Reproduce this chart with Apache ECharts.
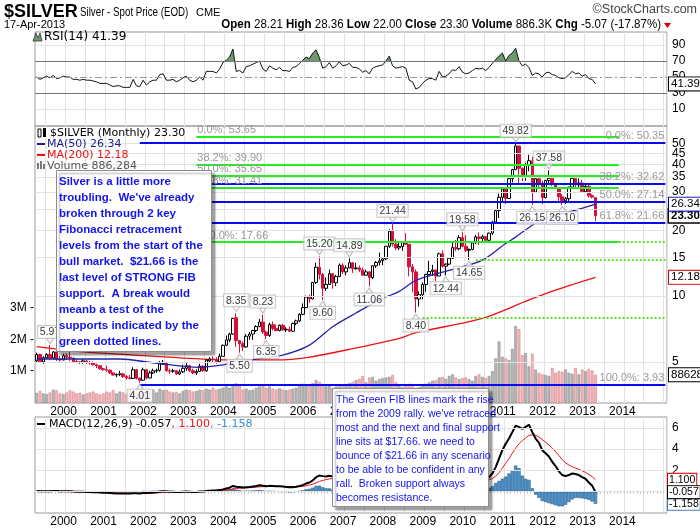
<!DOCTYPE html>
<html><head><meta charset="utf-8">
<script src="https://cdn.jsdelivr.net/npm/echarts@6/dist/echarts.min.js"></script>
<style>html,body{margin:0;padding:0;background:#fff}#c{width:700px;height:530px}</style>
</head><body><div id="c"></div>
<script>
// ---------- DATA ----------
// monthly candles [open, high, low, close]
const y1999 = [[5.05,5.50,4.95,5.40],[5.40,5.45,4.95,5.00],[5.00,5.30,4.90,5.22],[5.22,5.48,5.15,5.40],[5.40,5.97,5.08,5.20],[5.20,5.60,5.12,5.55],[5.55,5.60,5.05,5.12],[5.13,5.32,5.02,5.10],[5.10,5.45,5.08,5.33]];
const y2000 = [[5.33,5.45,5.10,5.25],[5.25,5.62,5.05,5.20],[5.20,5.22,4.98,5.00],[5.02,5.15,4.93,4.99],[4.99,5.05,4.88,4.98],[4.98,5.15,4.90,5.05],[5.05,5.08,4.90,4.96],[4.96,5.05,4.85,4.95],[4.95,5.02,4.80,4.85],[4.85,4.90,4.68,4.80],[4.80,4.82,4.60,4.65],[4.65,4.70,4.55,4.60]];
const y2001 = [[4.60,4.80,4.50,4.58],[4.58,4.62,4.40,4.45],[4.45,4.48,4.32,4.35],[4.35,4.42,4.25,4.38],[4.38,4.55,4.30,4.40],[4.40,4.45,4.22,4.28],[4.28,4.35,4.15,4.22],[4.22,4.35,4.15,4.20],[4.20,4.72,4.18,4.60],[4.60,4.62,4.15,4.20],[4.20,4.25,4.01,4.12],[4.12,4.70,4.10,4.60]];
const y2002 = [[4.60,4.62,4.15,4.22],[4.22,4.55,4.20,4.45],[4.45,4.65,4.40,4.55],[4.54,4.65,4.45,4.57],[4.57,5.05,4.50,4.90],[4.88,5.10,4.85,4.92],[4.92,5.00,4.50,4.55],[4.55,4.65,4.40,4.53],[4.53,4.65,4.45,4.55],[4.55,4.58,4.35,4.40],[4.40,4.62,4.35,4.50],[4.50,4.85,4.45,4.67]];
const y2003 = [[4.67,4.95,4.55,4.80],[4.80,4.85,4.50,4.55],[4.55,4.65,4.38,4.45],[4.45,4.62,4.35,4.52],[4.52,4.90,4.50,4.78],[4.78,4.82,4.50,4.55],[4.55,5.15,4.50,5.10],[5.05,5.25,4.95,5.15],[5.15,5.30,4.95,5.12],[5.12,5.25,4.90,5.00],[5.00,5.45,4.95,5.30],[5.30,6.00,5.30,5.95]];
const y2004 = [[5.95,6.60,5.90,6.30],[6.30,6.80,6.15,6.70],[6.70,7.95,6.65,7.90],[7.95,8.35,5.85,6.25],[6.25,6.30,5.50,6.05],[6.05,6.20,5.60,5.85],[5.85,6.70,5.80,6.55],[6.55,6.85,6.30,6.70],[6.70,7.00,6.30,6.95],[6.95,7.35,6.85,7.25],[7.25,7.85,7.20,7.60],[7.60,8.23,6.70,6.85]];
const y2005 = [[6.85,6.95,6.35,6.60],[6.60,7.55,6.50,7.40],[7.40,7.65,6.95,7.10],[7.10,7.40,6.90,6.95],[6.95,7.40,6.90,7.35],[7.35,7.45,6.95,7.00],[7.00,7.20,6.85,7.05],[7.05,7.25,6.85,6.90],[6.90,7.55,6.85,7.50],[7.50,7.80,7.35,7.70],[7.70,8.35,7.60,8.25],[8.25,9.25,8.20,8.85]];
const y2006 = [[8.85,10.05,8.80,9.90],[9.90,10.15,9.30,9.70],[9.70,11.60,9.65,11.55],[11.55,14.20,11.35,13.55],[13.55,15.20,11.90,12.55],[12.55,12.75,9.60,10.85],[10.85,12.15,10.55,11.30],[11.30,13.20,11.30,12.65],[12.65,12.75,10.80,11.50],[11.50,12.50,11.10,12.30],[12.30,14.10,12.20,13.85],[13.85,14.10,12.60,12.90]];
const y2007 = [[12.90,13.80,12.45,13.45],[13.45,14.89,13.40,14.20],[14.20,14.30,12.75,13.35],[13.35,14.20,13.20,13.45],[13.45,13.80,12.90,13.15],[13.15,13.50,12.40,12.45],[12.45,13.20,12.40,12.90],[12.90,13.00,11.06,12.15],[12.15,13.85,11.95,13.75],[13.75,14.45,13.45,14.25],[14.25,15.80,13.80,14.50],[14.50,15.00,13.85,14.80]];
const y2008 = [[14.80,16.95,14.60,16.90],[16.90,20.20,16.60,19.80],[19.80,21.44,16.85,17.30],[17.30,18.20,16.20,16.60],[16.60,17.55,16.25,16.85],[16.85,17.75,16.10,17.55],[17.55,19.40,17.15,17.25],[17.25,17.30,12.30,13.60],[13.60,14.00,10.40,12.90],[12.90,13.25,8.40,9.70],[9.70,10.50,8.95,10.15],[10.15,11.55,9.65,11.30]];
const y2009 = [[11.30,12.65,10.45,12.55],[12.55,14.50,12.45,12.95],[12.95,13.90,12.35,13.15],[13.15,13.20,11.65,12.35],[12.35,15.80,12.35,15.60],[15.60,16.20,13.50,13.70],[13.70,14.10,12.44,14.00],[14.00,15.05,13.85,14.90],[14.90,17.50,14.80,16.65],[16.65,18.05,16.05,16.45],[16.45,19.00,16.20,18.50],[18.50,19.58,16.70,16.90]];
const y2010 = [[16.90,19.00,15.90,16.20],[16.20,16.50,14.65,16.35],[16.35,17.80,16.20,17.50],[17.50,19.05,17.30,18.65],[18.65,19.55,17.10,18.35],[18.35,19.10,17.65,18.70],[18.70,18.75,17.50,18.00],[18.00,19.50,17.70,19.40],[19.40,22.10,19.05,21.80],[21.80,24.90,21.40,24.60],[24.60,29.40,22.75,28.30],[28.30,31.00,27.00,30.90]];
const y2011 = [[30.90,31.30,26.40,27.95],[27.95,34.60,27.80,34.45],[34.45,38.20,33.10,37.90],[37.90,49.82,37.70,48.60],[48.60,48.70,32.35,38.40],[38.40,38.80,33.55,34.90],[34.90,40.80,33.75,40.00],[40.00,44.25,37.20,41.60],[41.60,43.40,26.15,29.90],[29.90,35.50,29.85,34.40],[34.40,35.40,31.30,32.70],[32.70,33.65,26.40,28.20]];
const y2012 = [[28.20,34.10,28.00,33.80],[33.80,37.58,32.90,34.60],[34.60,35.40,31.80,32.50],[32.50,33.00,30.90,31.15],[31.15,31.50,26.70,28.45],[28.45,29.30,26.10,27.30],[27.30,28.40,26.40,27.90],[27.90,31.60,27.00,31.50],[31.50,35.40,31.30,34.55],[34.55,35.00,31.30,32.30],[32.30,34.60,31.50,32.90],[32.90,34.00,29.90,30.00]];
const y2013 = [[30.00,32.40,29.85,31.80],[31.80,32.20,28.20,28.80],[28.80,29.20,28.00,28.37],[28.21,28.36,22.00,23.30]];

// monthly volume, millions
const volumeM = [
0.32,0.38,0.3,0.28,0.33,0.42,0.4,0.3,0.28,
0.33,0.4,0.36,0.3,0.32,0.27,0.3,0.33,0.36,0.3,0.27,0.3,
0.36,0.33,0.4,0.3,0.36,0.33,0.27,0.3,0.42,0.36,0.3,0.33,
0.3,0.36,0.42,0.33,0.45,0.4,0.42,0.36,0.33,0.35,0.3,0.38,
0.42,0.4,0.36,0.38,0.42,0.4,0.45,0.42,0.48,0.42,0.45,0.48,
0.52,0.48,0.56,0.62,0.55,0.42,0.45,0.4,0.42,0.48,0.52,0.56,
0.48,0.52,0.45,0.42,0.46,0.42,0.4,0.42,0.45,0.48,0.54,0.6,
0.56,0.54,0.62,0.72,0.66,0.6,0.52,0.54,0.48,0.52,0.56,0.54,
0.58,0.62,0.66,0.72,0.76,0.85,0.65,0.8,0.82,0.7,0.75,0.78,
0.8,0.82,0.88,0.65,0.55,0.5,0.55,0.6,0.52,0.48,0.5,0.55,
0.6,0.65,0.7,0.72,0.8,0.82,0.75,0.85,0.9,0.8,0.75,0.78,
0.8,0.75,0.7,0.85,0.9,0.82,0.78,0.85,1.0,1.4,1.93,1.45,
1.4,1.35,1.7,2.42,2.32,1.5,1.57,1.15,1.55,1.05,0.95,0.9,
0.88,0.85,1.1,0.95,1.0,0.98,1.05,0.95,0.92,1.1,0.9,1.05,
1.0,1.07,1.02,0.886284];

const rsi = [
50,47,49,51,49,52,48,49,51,
50,50,47,47,46,47,46,46,45,44,42,42,
42,40,38,39,39,37,37,37,47,39,38,46,
40,44,46,46,53,54,46,46,47,44,46,49,
51,46,44,46,50,46,57,57,57,55,60,68,
71,75,85,57,58,55,63,64,66,68,70,60,
57,64,61,59,62,58,58,57,62,63,67,71,
75,73,80,84,74,61,63,68,61,64,69,64,
65,67,62,62,60,56,58,54,61,63,64,65,
70,76,64,61,62,63,61,46,44,35,37,42,
46,48,48,46,57,50,51,54,59,58,63,56,
54,55,58,61,60,61,58,62,67,72,76,80,
70,77,80,86,70,64,66,62,52,55,54,50,
55,56,53,52,49,48,49,53,57,54,55,51,
53,48,47,41.39];

const macd = [
0.05,0.03,0.02,0.03,0.02,0.05,0.04,0.02,0.03,
0.03,0.03,0.0,-0.02,-0.03,-0.03,-0.04,-0.05,-0.06,-0.08,-0.1,-0.12,
-0.13,-0.15,-0.17,-0.18,-0.18,-0.19,-0.2,-0.2,-0.16,-0.17,-0.18,-0.14,
-0.15,-0.13,-0.1,-0.08,-0.02,0.02,0.0,-0.02,-0.03,-0.05,-0.04,-0.02,
0.0,-0.02,-0.04,-0.04,0.0,-0.01,0.05,0.08,0.1,0.1,0.13,0.2,
0.28,0.36,0.52,0.45,0.42,0.37,0.4,0.43,0.47,0.52,0.58,0.55,
0.5,0.53,0.52,0.49,0.49,0.46,0.43,0.39,0.41,0.44,0.51,0.6,
0.75,0.85,1.05,1.35,1.5,1.45,1.42,1.48,1.42,1.4,1.48,1.48,
1.5,1.55,1.5,1.45,1.4,1.3,1.25,1.12,1.15,1.2,1.25,1.3,
1.45,1.75,1.85,1.85,1.82,1.82,1.78,1.5,1.2,0.7,0.35,0.15,
0.05,0.0,0.0,-0.05,0.15,0.2,0.25,0.35,0.55,0.7,0.95,1.0,
1.0,0.95,1.0,1.1,1.2,1.25,1.25,1.35,1.7,2.3,3.1,3.9,
4.5,5.0,5.6,6.2,6.1,5.9,6.1,6.3,5.6,5.0,4.6,3.9,
3.6,3.3,2.8,2.4,1.9,1.55,1.45,1.55,1.7,1.65,1.55,1.35,
1.2,0.85,0.55,-0.057];

const signal = [
0.04,0.04,0.03,0.03,0.03,0.03,0.04,0.03,0.03,
0.03,0.03,0.02,0.01,0.0,-0.01,-0.02,-0.03,-0.04,-0.05,-0.06,-0.07,
-0.08,-0.1,-0.11,-0.13,-0.14,-0.15,-0.16,-0.17,-0.17,-0.17,-0.17,-0.17,
-0.16,-0.16,-0.15,-0.13,-0.11,-0.08,-0.06,-0.05,-0.05,-0.05,-0.05,-0.04,
-0.03,-0.03,-0.03,-0.03,-0.03,-0.02,-0.01,0.01,0.03,0.04,0.06,0.09,
0.13,0.17,0.24,0.28,0.31,0.32,0.34,0.36,0.38,0.41,0.44,0.46,
0.47,0.48,0.49,0.49,0.49,0.48,0.47,0.46,0.45,0.45,0.46,0.49,
0.54,0.6,0.69,0.82,0.95,1.05,1.12,1.19,1.23,1.27,1.31,1.34,
1.37,1.4,1.42,1.43,1.42,1.4,1.37,1.32,1.29,1.27,1.27,1.28,
1.31,1.4,1.49,1.56,1.61,1.65,1.68,1.64,1.55,1.38,1.18,0.97,
0.79,0.63,0.5,0.39,0.34,0.31,0.3,0.31,0.36,0.43,0.53,0.62,
0.7,0.75,0.8,0.86,0.93,1.0,1.05,1.11,1.23,1.44,1.77,2.2,
2.65,3.1,3.6,4.1,4.5,4.8,5.05,5.3,5.35,5.3,5.15,4.9,
4.65,4.4,4.1,3.75,3.4,3.0,2.7,2.5,2.35,2.2,2.1,1.95,
1.8,1.6,1.4,1.1];

const histogram = [
0.01,-0.01,-0.01,0,-0.01,0.02,0,-0.01,0,
0,0,-0.02,-0.03,-0.03,-0.02,-0.02,-0.02,-0.02,-0.03,-0.04,-0.05,
-0.05,-0.05,-0.06,-0.05,-0.04,-0.04,-0.04,-0.03,0.01,0,-0.01,0.03,
0.01,0.03,0.05,0.05,0.09,0.1,0.06,0.03,0.02,0,0.01,0.02,
0.03,0.01,-0.01,-0.01,0.03,0.01,0.06,0.07,0.07,0.06,0.07,0.11,
0.15,0.19,0.28,0.17,0.11,0.05,0.06,0.07,0.09,0.11,0.14,0.09,
0.03,0.05,0.03,0,0,-0.02,-0.04,-0.07,-0.04,-0.01,0.05,0.11,
0.21,0.25,0.36,0.53,0.55,0.4,0.3,0.29,0.19,0.13,0.17,0.14,
0.13,0.15,0.08,0.02,-0.02,-0.1,-0.12,-0.2,-0.14,-0.07,-0.02,0.02,
0.14,0.35,0.36,0.29,0.21,0.17,0.1,-0.14,-0.35,-0.68,-0.83,-0.82,
-0.74,-0.63,-0.5,-0.44,-0.19,-0.11,-0.05,0.04,0.19,0.27,0.42,0.38,
0.3,0.25,0.25,0.3,0.3,0.3,0.3,0.35,0.5,0.8,1.0,1.2,
1.4,1.7,2.0,2.45,2.2,1.5,1.2,1.1,0.3,-0.3,-0.6,-0.9,
-1.0,-1.1,-1.2,-1.3,-1.4,-1.4,-1.25,-1.0,-0.75,-0.6,-0.6,-0.65,
-0.7,-0.8,-0.95,-1.158];

// moving averages: [month index, value]
const ma50Points = [[0,5.15],[25,5.15],[35,4.95],[49,4.72],[56,4.84],[64,5.1],[74,5.37],[82,5.96],[89,7.24],[96,8.36],[104,9.75],[109,10.5],[114,11.8],[124,13.1],[134,14.6],[141,17.4],[144,18.6],[150,21.6],[154,23.0],[162,24.7],[168,26.34]];
const ma200Points = [[0,5.87],[14,5.55],[29,5.37],[44,5.2],[59,5.1],[74,5.1],[82,5.25],[94,5.7],[109,6.4],[114,6.8],[134,7.9],[148,9.6],[156,10.65],[168,12.18]];

// high / low annotations
const annoIdx = [4,31,60,61,68,69,85,86,94,100,107,114,123,128,130,144,149,154,158];
const annoVal = [5.97,4.01,8.35,5.50,8.23,6.35,15.20,9.60,14.89,11.06,21.44,8.40,12.44,19.58,14.65,49.82,26.15,37.58,26.10];
const annoPos = ['top','bottom','top','bottom','top','bottom','top','bottom','top','bottom','top','bottom','bottom','top','bottom','top','bottom','top','bottom'];

// Fibonacci levels
const fibAValues = [53.65,39.90,35.65,31.41,17.66];
const fibALabels = ['0.0%: 53.65','38.2%: 39.90','50.0%: 35.65','61.8%: 31.41','100.0%: 17.66'];
const fibBValues = [50.35,32.62,27.14,21.66,3.93];
const fibBLabels = ['0.0%: 50.35','38.2%: 32.62','50.0%: 27.14','61.8%: 21.66','100.0%: 3.93'];
const supportValues = [17.66,14.65,7.96];
const supportStart = [175,132,116];

// tick labels
const rsiTicks = [90,70,50,30,10];
const priceTicks = [5,10,15,20,25,30,35,40,45,50];
const priceTickLabels = ['5','10','15','20','','30','35','40','45','50'];
const macdTicks = [6,4,2,0];
const macdTickLabels = ['6','4','2',''];
const volumeTicks = [1,2,3];
const volumeTickLabels = ['1M','2M','3M'];

const note1 = ['Silver is a little more','troubling.  We\'ve already','broken through 2 key','Fibonacci retracement','levels from the start of the','bull market.  $21.66 is the','last level of STRONG FIB','support.  A break would','meanb a test of the','supports indicated by the','green dotted lines.'];
const note2 = ['The Green FIB lines mark the rise','from the 2009 rally. we\'ve retraced','most and the next and final support','line sits at $17.66. we need to','bounce of $21.66 in any scenario','to be able to be confident in any','rall.  Broken support always','becomes resistance.'];

// ---------- BUILD ----------
const months = [];
for (let i = 0; i < 190; i++) { const t = 3 + i; months.push((1999 + Math.floor(t / 12)) + '-' + String(t % 12 + 1).padStart(2, '0')); }
const ohlc = [].concat(y1999,y2000,y2001,y2002,y2003,y2004,y2005,y2006,y2007,y2008,y2009,y2010,y2011,y2012,y2013);
const candleData = ohlc.map(d => [d[0], d[3], d[2], d[1]]);
const closes = ohlc.map(d => d[3]);
const volItems = volumeM.map((v, i) => ({ value: v, itemStyle: (i === 0 || closes[i] >= closes[i - 1]) ? { color: '#b9b9b9', borderColor: '#8a8a8a', borderWidth: 0.6 } : { color: '#f2b9bd', borderColor: '#d98088', borderWidth: 0.6 } }));

const FONT = 'Liberation Sans';
const LEG = 'DejaVu Sans';
const NOLINE = { color: 'rgba(0,0,0,0)', width: 0 };
function gridLine(v, text, color, type) {
  return { yAxis: v, lineStyle: { color: color || '#e2e2e2', width: 1, type: type || 'solid' },
    label: { show: text !== '', formatter: text, position: 'end', distance: 5, color: '#000', fontSize: 12, fontFamily: FONT } };
}
function tag(v, text, border, opts) {
  return { yAxis: v, lineStyle: NOLINE,
    label: Object.assign({ show: true, formatter: text, position: 'end', distance: 2, color: '#000', fontSize: 11.5, fontFamily: FONT, opacity: 1,
      backgroundColor: '#fff', borderColor: border, borderWidth: 1, padding: [1, 1, 0, 2] }, opts || {}) };
}
const ml = (data) => ({ silent: true, symbol: ['none', 'none'], animation: false, emphasis: { disabled: true }, data });

const xSplit = (i, v) => v.endsWith('-01') || v.endsWith('-07');
function xa(gi, showLabels) {
  return { type: 'category', gridIndex: gi, data: months, boundaryGap: true,
    axisLine: { show: false }, axisTick: { show: gi === 2, interval: 0, length: 2, lineStyle: { color: '#bbb' } },
    axisLabel: { show: showLabels, interval: (i, v) => v.endsWith('-01') && v < '2015', formatter: v => v.slice(0, 4),
      fontSize: 12, fontFamily: FONT, color: '#000', margin: 3, padding: [0, 6, 0, 0] },
    splitLine: { show: true, interval: xSplit, lineStyle: { color: '#e2e2e2', width: 1 } } };
}

const rsiGrid = rsiTicks.map(v => gridLine(v, String(v), (v === 70 || v === 30) ? '#777' : (v === 50 ? '#999' : '#e2e2e2'), v === 50 ? [7, 3, 2, 3] : 'solid'));
const priceGrid = priceTicks.map((v, i) => gridLine(v, priceTickLabels[i]));
const macdGrid = macdTicks.map((v, i) => gridLine(v, macdTickLabels[i]));
const volLabels = volumeTicks.map((v, i) => ({ yAxis: v, lineStyle: NOLINE, label: { show: true, opacity: 1, formatter: volumeTickLabels[i] + ' -', position: 'start', distance: 1, color: '#000', fontSize: 12, fontFamily: FONT } }));

const fibLines = [];
fibAValues.forEach((v, i) => fibLines.push([
  { coord: [months[48], v], lineStyle: { color: '#22ee22', width: 2, type: 'solid' },
    label: { show: true, formatter: fibALabels[i], position: 'insideStartTop', distance: 1, color: '#9a9a9a', fontSize: 11, fontFamily: FONT } },
  { coord: [months[175], v] }]));
fibBValues.forEach((v, i) => fibLines.push([
  { coord: [months[31], v], lineStyle: { color: '#0a0af0', width: 2, type: 'solid' },
    label: { show: true, formatter: fibBLabels[i], position: 'insideEndTop', distance: 1, color: '#9a9a9a', fontSize: 11, fontFamily: FONT } },
  { coord: [months[189], v] }]));
supportValues.forEach((v, i) => fibLines.push([
  { coord: [months[supportStart[i]], v], lineStyle: { color: '#66dd22', width: 2, type: 'dotted' }, label: { show: false } },
  { coord: [months[189], v] }]));

const downTri = 'path://M0 0L8 0L4 5Z';
const upTri = 'path://M4 0L8 5L0 5Z';
const annoData = annoIdx.map((ix, i) => ({
  value: [months[ix], annoVal[i]],
  symbol: annoPos[i] === 'top' ? downTri : upTri,
  symbolSize: [7, 5],
  symbolOffset: [0, annoPos[i] === 'top' ? -4 : 4],
  label: { position: annoPos[i], formatter: annoVal[i].toFixed(2) }
}));

const macdTagStyle = { fontSize: 10.5, distance: 1, padding: [1, 1, 0, 1] };
const series = [
  { name: 'RSI', type: 'line', xAxisIndex: 0, yAxisIndex: 0, data: rsi, symbol: 'none', z: 3,
    lineStyle: { color: '#111', width: 1 },
    markLine: ml(rsiGrid.concat([tag(41.39, '41.39', '#000')])) },
  { name: 'RSIfill', type: 'line', xAxisIndex: 0, yAxisIndex: 0, data: rsi, symbol: 'none', z: 2,
    lineStyle: { width: 0 }, areaStyle: { origin: 70, opacity: 1 } },
  { name: 'Volume', type: 'bar', xAxisIndex: 1, yAxisIndex: 2, data: volItems, barCategoryGap: '18%', z: 1,
    markLine: ml(volLabels.concat([tag(0.886284, '886284', '#000')])) },
  { name: 'MA200', type: 'line', xAxisIndex: 1, yAxisIndex: 1, data: ma200Points.map(p => [months[p[0]], p[1]]), symbol: 'none', smooth: 0.3, z: 1,
    lineStyle: { color: '#ee1111', width: 1.3 },
    markLine: ml(priceGrid.concat([tag(12.18, '12.18', '#e00000')])) },
  { name: 'SILVER', type: 'candlestick', xAxisIndex: 1, yAxisIndex: 1, data: candleData, barWidth: 3, z: 3,
    itemStyle: { color: '#ffffff', color0: '#d6123b', borderColor: '#000', borderColor0: '#d6123b', borderWidth: 1 },
    markLine: ml([tag(23.30, '23.30', '#000', { fontWeight: 'bold', borderWidth: 1.5 })]) },
  { name: 'MA50', type: 'line', xAxisIndex: 1, yAxisIndex: 1, data: ma50Points.map(p => [months[p[0]], p[1]]), symbol: 'none', smooth: 0.3, z: 4,
    lineStyle: { color: '#2222aa', width: 1.3 },
    markLine: ml(fibLines.concat([tag(26.34, '26.34', '#0000a0')])) },
  { name: 'Anno', type: 'scatter', xAxisIndex: 1, yAxisIndex: 1, data: annoData, z: 6,
    itemStyle: { color: '#fff', borderColor: '#aaa', borderWidth: 1 },
    label: { show: true, distance: 0, color: '#000', fontSize: 10.5, fontFamily: FONT, backgroundColor: '#fff', borderColor: '#bbb', borderWidth: 1, padding: [1, 2, 0, 2] } },
  { name: 'Hist', type: 'bar', xAxisIndex: 2, yAxisIndex: 3, data: histogram, barCategoryGap: '0%', z: 2,
    itemStyle: { color: '#4d96cf', borderColor: '#275a86', borderWidth: 0.6 },
    markLine: ml(macdGrid.concat([tag(-1.158, '-1.158', '#3d7fc0', macdTagStyle)])) },
  { name: 'Signal', type: 'line', xAxisIndex: 2, yAxisIndex: 3, data: signal, symbol: 'none', z: 3,
    lineStyle: { color: '#ee1111', width: 1 },
    markLine: ml([tag(1.100, '1.100', '#e00000', macdTagStyle)]) },
  { name: 'MACD', type: 'line', xAxisIndex: 2, yAxisIndex: 3, data: macd, symbol: 'none', z: 4,
    lineStyle: { color: '#000', width: 2 },
    markLine: ml([tag(-0.057, '-0.057', '#000', macdTagStyle)]) }
];

// ---------- GRAPHIC (titles, legends, notes) ----------
const Z = 100;
function T(x, y, text, o, sx) {
  return { type: 'text', x, y, z: Z, silent: true, scaleX: sx || 1,
    style: Object.assign({ text, fontSize: 12, fontFamily: FONT, fill: '#000', align: 'left', verticalAlign: 'middle' }, o || {}) };
}
const graphic = [
  T(4, 12, '$SILVER', { fontSize: 18, fontWeight: 'bold' }),
  T(80, 12, 'Silver - Spot Price (EOD)', { fontSize: 13 }, 0.75),
  T(196, 13, 'CME', { fontSize: 11 }),
  T(697, 10, '\u00A9StockCharts.com', { fontSize: 12.5, fill: '#444', align: 'right' }),
  T(4, 25, '17-Apr-2013', { fontSize: 11 }),
  { type: 'text', x: 661, y: 25, z: Z, scaleX: 0.96, style: { text: '{b|Open} 28.21 {b|High} 28.36 {b|Low} 22.00 {b|Close} 23.30 {b|Volume} 886.3K {b|Chg} -5.07 (-17.87%)',
      fontSize: 12, fontFamily: FONT, fill: '#000', align: 'right', verticalAlign: 'middle',
      rich: { b: { fontSize: 12, fontFamily: FONT, fontWeight: 'bold', fill: '#000' } } } },
  { type: 'polygon', z: Z, shape: { points: [[664, 23], [671, 23], [667.5, 28]] }, style: { fill: '#dd0000' } },
  // RSI legend
  { type: 'polygon', z: Z, shape: { points: [[33, 41], [36, 33], [38, 38], [40, 33], [42, 41]] }, style: { fill: '#6e9b6e', stroke: '#333', lineWidth: 0.8 } },
  T(44, 37, 'RSI(14) 41.39', { fontSize: 12, fontFamily: LEG }),
  // main legend
  { type: 'rect', z: Z, shape: { x: 38, y: 129, width: 3, height: 8 }, style: { fill: '#fff', stroke: '#000', lineWidth: 1 } },
  { type: 'rect', z: Z, shape: { x: 43, y: 128, width: 3, height: 9 }, style: { fill: '#000' } },
  T(50, 133, '$SILVER (Monthly) 23.30', { fontSize: 11, fontFamily: LEG }),
  { type: 'rect', z: Z, shape: { x: 37, y: 143, width: 8, height: 2 }, style: { fill: '#1c1c8c' } },
  T(47, 144, 'MA(50) 26.34', { fontSize: 11, fontFamily: LEG, fill: '#1c1c8c' }),
  { type: 'rect', z: Z, shape: { x: 37, y: 154, width: 8, height: 2 }, style: { fill: '#ee1111' } },
  T(47, 155, 'MA(200) 12.18', { fontSize: 11, fontFamily: LEG, fill: '#ee1111' }),
  { type: 'rect', z: Z, shape: { x: 37, y: 163, width: 2, height: 6 }, style: { fill: '#777' } },
  { type: 'rect', z: Z, shape: { x: 40, y: 161, width: 2, height: 8 }, style: { fill: '#777' } },
  { type: 'rect', z: Z, shape: { x: 43, y: 164, width: 2, height: 5 }, style: { fill: '#777' } },
  T(47, 166, 'Volume 886,284', { fontSize: 11, fontFamily: LEG, fill: '#555' }),
  // MACD legend
  { type: 'rect', z: Z, shape: { x: 37, y: 423, width: 8, height: 2 }, style: { fill: '#000' } },
  { type: 'text', x: 49, y: 424, z: Z, style: { text: 'MACD(12,26,9) -0.057{r|, 1.100}{b|, -1.158}', fontSize: 11, fontFamily: LEG, fill: '#000', verticalAlign: 'middle',
      rich: { r: { fontSize: 11, fontFamily: LEG, fill: '#ee1111' }, b: { fontSize: 11, fontFamily: LEG, fill: '#3d8fcf' } } } },
  // note 1
  { type: 'rect', z: Z, shape: { x: 56.5, y: 170.5, width: 155, height: 181 },
    style: { fill: '#fff', stroke: '#8c8c8c', lineWidth: 1, shadowColor: 'rgba(0,0,0,0.35)', shadowOffsetX: 3, shadowOffsetY: 3, shadowBlur: 2 } },
  { type: 'text', x: 59, y: 174, z: Z + 1, style: { text: note1.join('\n'), fontSize: 11.5, fontWeight: 'bold', fontFamily: FONT, fill: '#1414ee', lineHeight: 16, verticalAlign: 'top' } },
  // note 2
  { type: 'rect', z: Z, shape: { x: 332.5, y: 388.5, width: 156, height: 118 },
    style: { fill: '#fff', stroke: '#8c8c8c', lineWidth: 1, shadowColor: 'rgba(0,0,0,0.35)', shadowOffsetX: 3, shadowOffsetY: 3, shadowBlur: 2 } },
  { type: 'text', x: 336, y: 393, z: Z + 1, style: { text: note2.join('\n'), fontSize: 10.5, fontFamily: FONT, fill: '#1414ee', lineHeight: 14, verticalAlign: 'top' } }
];

const chart = echarts.init(document.getElementById('c'), null, { renderer: 'canvas' });
const gridBase = { left: 35, width: 632, show: true, borderColor: '#9a9a9a', borderWidth: 1, backgroundColor: 'rgba(0,0,0,0)', containLabel: false, outerBoundsMode: 'none' };
chart.setOption({
  animation: false,
  backgroundColor: '#fff',
  grid: [Object.assign({ top: 32, height: 94 }, gridBase), Object.assign({ top: 126, height: 277 }, gridBase), Object.assign({ top: 417, height: 96 }, gridBase)],
  xAxis: [xa(0, false), xa(1, true), xa(2, true)],
  yAxis: [
    { type: 'value', gridIndex: 0, min: -11.25, max: 106.25, show: false, splitLine: { show: false } },
    { type: 'log', gridIndex: 1, min: 3.24, max: 60, show: false, splitLine: { show: false } },
    { type: 'value', gridIndex: 1, min: 0, max: 8.7, show: false, splitLine: { show: false } },
    { type: 'value', gridIndex: 2, min: -2.03, max: 7.03, show: false, splitLine: { show: false } }
  ],
  visualMap: [{ show: false, type: 'piecewise', seriesIndex: 1, dimension: 1,
    pieces: [{ gt: 70, lte: 200, color: '#6e9b6e' }, { gte: -50, lte: 70, color: 'rgba(255,255,255,0)' }] }],
  series,
  graphic
});
</script></body></html>
